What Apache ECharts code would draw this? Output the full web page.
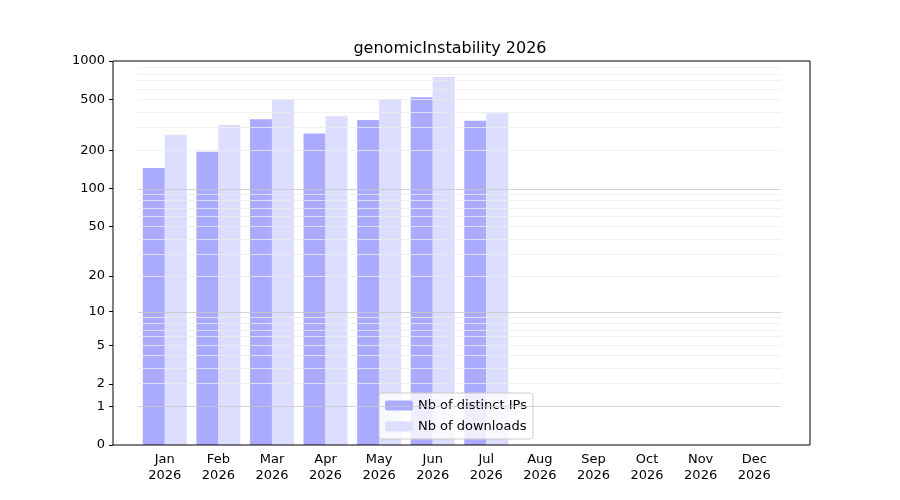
<!DOCTYPE html>
<html>
<head>
<meta charset="UTF-8">
<script src="https://cdn.jsdelivr.net/npm/echarts@6/dist/echarts.min.js"></script>
<style>html,body{margin:0;padding:0;background:#fff}#main{width:900px;height:500px}</style>
</head>
<body>
<div id="main"></div>
<script>
var months = ['Jan\n2026','Feb\n2026','Mar\n2026','Apr\n2026','May\n2026','Jun\n2026','Jul\n2026','Aug\n2026','Sep\n2026','Oct\n2026','Nov\n2026','Dec\n2026'];
var distinctIPs = [145, 195, 350, 270, 345, 520, 340, null, null, null, null, null];
var downloads = [265, 315, 500, 370, 505, 750, 390, null, null, null, null, null];
var tickValues = [0, 1, 2, 5, 10, 20, 50, 100, 200, 500, 1000];
var majorLines = [1, 10, 100];
var minorLines = [2,3,4,5,6,7,8,9,20,30,40,50,60,70,80,90,200,300,400,500,600,700,800,900];

function tf(v){ return v == null ? null : Math.log10(1 + v); }
function inv(t){ return Math.round(Math.pow(10, t) - 1); }

var grid = []; 
minorLines.forEach(function(v){ grid.push({yAxis: tf(v), lineStyle:{color:'#ececec', width:0.8, type:'solid'}}); });
majorLines.forEach(function(v){ grid.push({yAxis: tf(v), lineStyle:{color:'#c8c8c8', width:0.8, type:'solid'}}); });

var chart = echarts.init(document.getElementById('main'));
chart.setOption({
  animation: false,
  title: {text: 'genomicInstability 2026', left: 'center', top: 36,
    textStyle: {fontFamily: 'DejaVu Sans', fontWeight: 'normal', fontSize: 16, color: '#000'}},
  grid: {left: 138, right: 119, top: 61, bottom: 55},
  legend: {
    left: 379, top: 393, orient: 'vertical', itemWidth: 28, itemHeight: 10, itemGap: 8,
    backgroundColor: 'rgba(255,255,255,0.8)', borderColor: '#ccc', borderWidth: 1, borderRadius: 3, padding: [6, 6],
    textStyle: {fontFamily: 'DejaVu Sans', fontSize: 13, color: '#000'},
    data: ['Nb of distinct IPs', 'Nb of downloads']
  },
  xAxis: {
    type: 'category', data: months,
    axisLine: {show: false},
    axisTick: {alignWithLabel: true, length: 4, lineStyle: {color: '#000'}},
    axisLabel: {fontFamily: 'DejaVu Sans', fontSize: 13, color: '#000', margin: 7, lineHeight: 16}
  },
  yAxis: {
    type: 'value', min: 0, max: tf(1000), offset: 25,
    splitLine: {show: false},
    axisLine: {show: false},
    axisTick: {show: true, customValues: tickValues.map(tf), length: 4, lineStyle: {color: '#000'}},
    axisLabel: {customValues: tickValues.map(tf), fontFamily: 'DejaVu Sans', fontSize: 13, color: '#000',
      formatter: function(v){ return String(inv(v)); }}
  },
  graphic: [{type: 'rect', shape: {x: 113, y: 61, width: 697, height: 384},
    style: {fill: 'none', stroke: '#000', lineWidth: 1}, z: 100, silent: true}],
  series: [
    {type: 'line', data: [], z: 1, silent: true,
      markLine: {silent: true, symbol: 'none', label: {show: false}, data: grid}},
    {name: 'Nb of distinct IPs', type: 'bar', data: distinctIPs.map(tf), barWidth: 22, barGap: '0%', z: 3,
      itemStyle: {color: '#aaaaff'}},
    {name: 'Nb of downloads', type: 'bar', data: downloads.map(tf), barWidth: 22, z: 3,
      itemStyle: {color: '#ddddff'}}
  ]
});
</script>
</body>
</html>
